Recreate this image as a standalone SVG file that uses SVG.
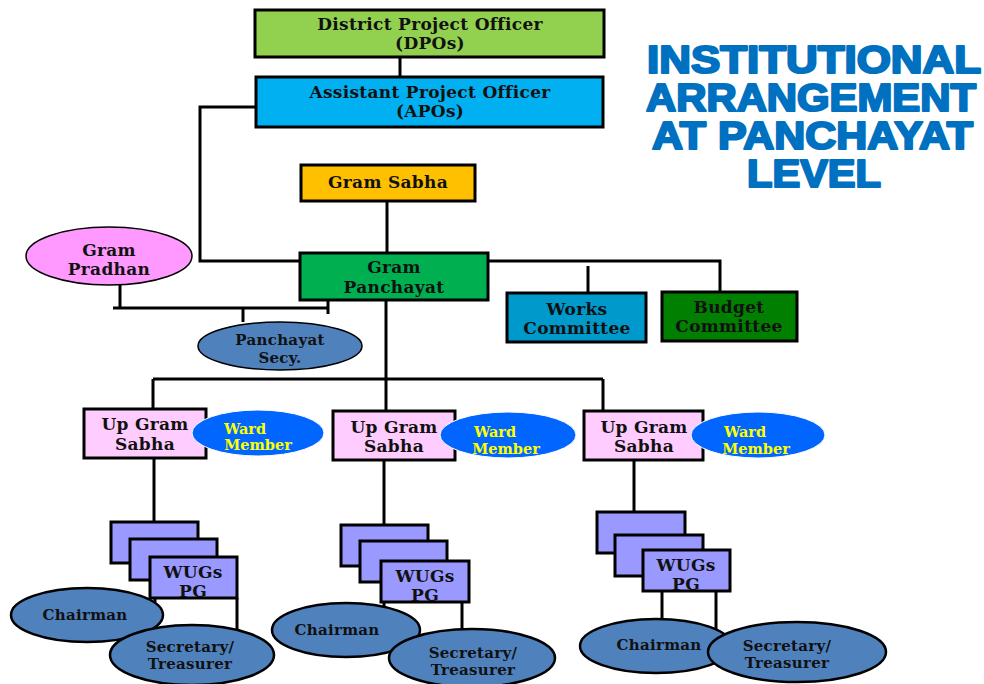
<svg xmlns="http://www.w3.org/2000/svg" width="984" height="684" viewBox="0 0 984 684">
  <style>
    .box { stroke: #000; stroke-width: 3; }
    .ell { stroke: #000; stroke-width: 2.5; }
    .lbl { font-family: "DejaVu Serif", "Liberation Serif", serif; font-weight: bold; font-size: 17px; letter-spacing: 0.3px; fill: #111; text-anchor: middle; }
    .sm { font-size: 15px; }
    .ward { fill: #ffff00; font-size: 14.5px; letter-spacing: 0; }
    .title { font-family: "Liberation Sans", Arial, sans-serif; font-weight: bold; font-size: 38px; fill: #0070c0; stroke: #0070c0; stroke-width: 2.2; stroke-linejoin: round; }
    .wire { stroke: #000; stroke-width: 3; fill: none; }
    .wug { fill: #9999ff; stroke: #000; stroke-width: 3; }
    .blue { fill: #4f81bd; }
  </style>

  <rect width="984" height="684" fill="#fff"/>

  <!-- heading -->
  <g id="title">
    <text class="title" x="647" y="73" textLength="334" lengthAdjust="spacingAndGlyphs">INSTITUTIONAL</text>
    <text class="title" x="646" y="111" textLength="330" lengthAdjust="spacingAndGlyphs">ARRANGEMENT</text>
    <text class="title" x="652" y="149" textLength="321" lengthAdjust="spacingAndGlyphs">AT PANCHAYAT</text>
    <text class="title" x="747" y="187" textLength="134" lengthAdjust="spacingAndGlyphs">LEVEL</text>
  </g>

  <!-- connectors -->
  <g id="connectors">
    <path class="wire" d="M400 57 V77"/>
    <path class="wire" d="M256 107 H200 V261 H300"/>
    <path class="wire" d="M387 201 V253"/>
    <path class="wire" d="M488 261 H720 V292"/>
    <path class="wire" d="M588 266 V293"/>
    <path class="wire" d="M120 282 V308"/>
    <path class="wire" d="M113 308 H328"/>
    <path class="wire" d="M328 295 V314"/>
    <path class="wire" d="M243 308 V322"/>
    <path class="wire" d="M386 300 V379"/>
    <path class="wire" d="M153 379 H603"/>
    <path class="wire" d="M153 379 V410"/>
    <path class="wire" d="M386 379 V412"/>
    <path class="wire" d="M603 379 V412"/>
    <path class="wire" d="M154 459 V522"/>
    <path class="wire" d="M384 461 V525"/>
    <path class="wire" d="M634 461 V512"/>
    <path class="wire" d="M155 598 V610"/>
    <path class="wire" d="M237 598 V630"/>
    <path class="wire" d="M384 602 V614"/>
    <path class="wire" d="M462 602 V633"/>
    <path class="wire" d="M662 591 V625"/>
    <path class="wire" d="M716 591 V630"/>
  </g>

  <g id="dpo">
    <rect class="box" x="255" y="10" width="349" height="47" fill="#92d050"/>
    <text class="lbl" x="430" y="30">District Project Officer</text>
    <text class="lbl" x="430" y="49">(DPOs)</text>
  </g>

  <g id="apo">
    <rect class="box" x="256" y="77" width="347" height="50" fill="#00b0f0"/>
    <text class="lbl" x="430" y="98">Assistant Project Officer</text>
    <text class="lbl" x="430" y="117">(APOs)</text>
  </g>

  <g id="gram-sabha">
    <rect class="box" x="301" y="165" width="174" height="36" fill="#ffc000"/>
    <text class="lbl" x="388" y="188">Gram Sabha</text>
  </g>

  <g id="gram-panchayat">
    <rect class="box" x="300" y="253" width="188" height="47" fill="#00b050"/>
    <text class="lbl" x="394" y="273">Gram</text>
    <text class="lbl" x="394" y="293">Panchayat</text>
  </g>

  <g id="works-committee">
    <rect class="box" x="507" y="293" width="139" height="49" fill="#0099cc"/>
    <text class="lbl" x="577" y="315">Works</text>
    <text class="lbl" x="577" y="334">Committee</text>
  </g>

  <g id="budget-committee">
    <rect class="box" x="662" y="292" width="135" height="49" fill="#007f00"/>
    <text class="lbl" x="729" y="313">Budget</text>
    <text class="lbl" x="729" y="332">Committee</text>
  </g>

  <g id="gram-pradhan">
    <ellipse cx="109" cy="256" rx="83" ry="29" fill="#ff99ff" stroke="#000" stroke-width="1.5"/>
    <text class="lbl" x="109" y="256">Gram</text>
    <text class="lbl" x="109" y="275">Pradhan</text>
  </g>

  <g id="panchayat-secy">
    <ellipse cx="280" cy="346" rx="82" ry="24" class="blue" stroke="#000" stroke-width="1.5"/>
    <text class="lbl sm" x="280" y="345">Panchayat</text>
    <text class="lbl sm" x="280" y="363">Secy.</text>
  </g>

  <!-- column 1 -->
  <g id="up-gram-sabha-1">
    <rect class="box" x="84" y="409" width="122" height="49" fill="#ffccff"/>
    <text class="lbl" x="145" y="430">Up Gram</text>
    <text class="lbl" x="145" y="450">Sabha</text>
  </g>
  <g id="ward-member-1">
    <ellipse cx="258" cy="433" rx="66" ry="23" fill="#0066ff" stroke="#fff" stroke-width="1"/>
    <text class="lbl ward" x="245" y="434">Ward</text>
    <text class="lbl ward" x="258" y="450">Member</text>
  </g>
  <g id="wugs-1">
    <rect class="wug" x="111" y="522" width="87" height="41"/>
    <rect class="wug" x="130" y="539" width="87" height="41"/>
    <rect class="wug" x="150" y="557" width="87" height="41"/>
    <text class="lbl" x="193" y="578">WUGs</text>
    <text class="lbl" x="193" y="597">PG</text>
  </g>
  <g id="chairman-1">
    <ellipse class="ell blue" cx="87" cy="615" rx="76" ry="27"/>
    <text class="lbl sm" x="85" y="620">Chairman</text>
  </g>
  <g id="secretary-1">
    <ellipse class="ell blue" cx="192" cy="655" rx="82" ry="30"/>
    <text class="lbl sm" x="190" y="652">Secretary/</text>
    <text class="lbl sm" x="190" y="669">Treasurer</text>
  </g>

  <!-- column 2 -->
  <g id="up-gram-sabha-2">
    <rect class="box" x="333" y="411" width="122" height="49" fill="#ffccff"/>
    <text class="lbl" x="394" y="433">Up Gram</text>
    <text class="lbl" x="394" y="452">Sabha</text>
  </g>
  <g id="ward-member-2">
    <ellipse cx="508" cy="435" rx="68" ry="23" fill="#0066ff" stroke="#fff" stroke-width="1"/>
    <text class="lbl ward" x="495" y="437">Ward</text>
    <text class="lbl ward" x="506" y="454">Member</text>
  </g>
  <g id="wugs-2">
    <rect class="wug" x="341" y="525" width="87" height="41"/>
    <rect class="wug" x="360" y="541" width="87" height="41"/>
    <rect class="wug" x="381" y="561" width="88" height="41"/>
    <text class="lbl" x="425" y="582">WUGs</text>
    <text class="lbl" x="425" y="601">PG</text>
  </g>
  <g id="chairman-2">
    <ellipse class="ell blue" cx="346" cy="630" rx="74" ry="27"/>
    <text class="lbl sm" x="337" y="635">Chairman</text>
  </g>
  <g id="secretary-2">
    <ellipse class="ell blue" cx="472" cy="658" rx="83" ry="29"/>
    <text class="lbl sm" x="473" y="658">Secretary/</text>
    <text class="lbl sm" x="473" y="675">Treasurer</text>
  </g>

  <!-- column 3 -->
  <g id="up-gram-sabha-3">
    <rect class="box" x="584" y="411" width="119" height="49" fill="#ffccff"/>
    <text class="lbl" x="644" y="433">Up Gram</text>
    <text class="lbl" x="644" y="452">Sabha</text>
  </g>
  <g id="ward-member-3">
    <ellipse cx="758" cy="435" rx="67" ry="23" fill="#0066ff" stroke="#fff" stroke-width="1"/>
    <text class="lbl ward" x="745" y="437">Ward</text>
    <text class="lbl ward" x="756" y="454">Member</text>
  </g>
  <g id="wugs-3">
    <rect class="wug" x="597" y="512" width="88" height="41"/>
    <rect class="wug" x="615" y="535" width="88" height="41"/>
    <rect class="wug" x="643" y="550" width="87" height="41"/>
    <text class="lbl" x="686" y="571">WUGs</text>
    <text class="lbl" x="686" y="590">PG</text>
  </g>
  <g id="chairman-3">
    <ellipse class="ell blue" cx="656" cy="646" rx="76" ry="27"/>
    <text class="lbl sm" x="659" y="650">Chairman</text>
  </g>
  <g id="secretary-3">
    <ellipse class="ell blue" cx="797" cy="652" rx="89" ry="30"/>
    <text class="lbl sm" x="787" y="651">Secretary/</text>
    <text class="lbl sm" x="787" y="668">Treasurer</text>
  </g>
</svg>
